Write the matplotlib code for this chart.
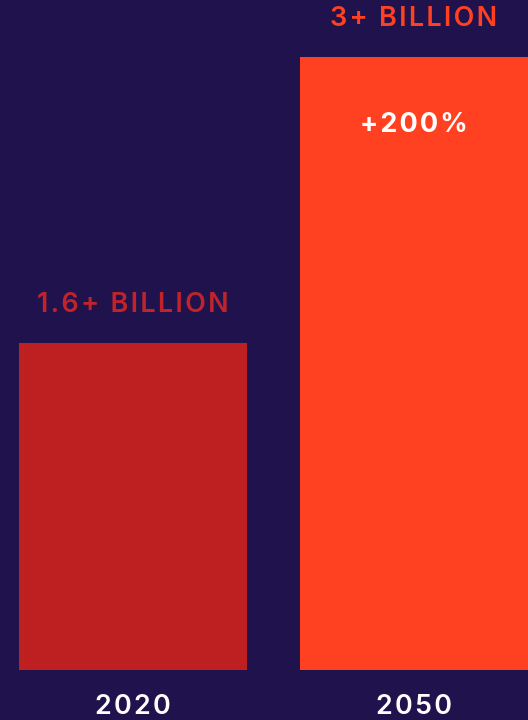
import matplotlib
matplotlib.use("Agg")
import matplotlib.pyplot as plt

# data
years = ["2020", "2050"]
values = [1.6, 3.0]
value_labels = ["1.6+ BILLION", "3+ BILLION"]
bar_colors = ["#BE2021", "#FF4121"]
label_colors = ["#C0242A", "#FF4121"]
growth_label = "+200%"

bg = "#20124D"
fonts = ["Inter", "DejaVu Sans"]


def tracked(s):
    # fake letter spacing with hair spaces
    return "\u200a".join(s)


fig = plt.figure(figsize=(5.28, 7.2), dpi=100, facecolor=bg)
ax = fig.add_axes([0, 0, 1, 1])
ax.set_facecolor(bg)

x = [0, 1]
width = 228 / 281
ax.bar(x, values, width=width, color=bar_colors, linewidth=0)

ax.set_xlim(-133 / 281, 1 + 114 / 281)
ax.set_ylim(-50 / 204.2, 670 / 204.2)
ax.axis("off")

# value labels above bars
for xi, v, lab, c in zip(x, values, value_labels, label_colors):
    ax.annotate(tracked(lab), (xi, v), xytext=(0, 22.7), textcoords="offset points",
                ha="center", va="baseline", color=c, fontsize=19.4,
                fontweight="semibold", family=fonts)

# year labels under bars
for xi, yr in zip(x, years):
    ax.annotate(tracked(yr), (xi, 0), xytext=(0, -31.5), textcoords="offset points",
                ha="center", va="baseline", color="white", fontsize=19.4,
                fontweight="semibold", family=fonts)

# growth inside the tall bar
ax.annotate(tracked(growth_label), (x[1], values[1]), xytext=(0, -53.8),
            textcoords="offset points", ha="center", va="baseline", color="white",
            fontsize=19.4, fontweight="bold", family=fonts)

fig.savefig("out.png", dpi=100, facecolor=bg)
